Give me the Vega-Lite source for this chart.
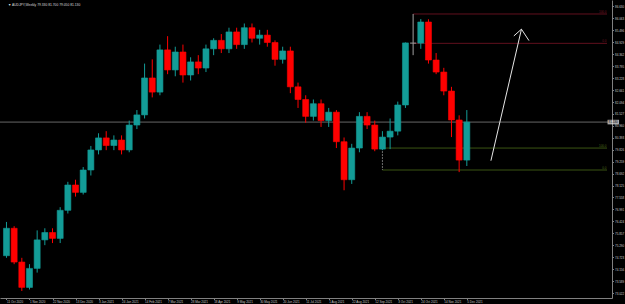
{
  "$schema": "https://vega.github.io/schema/vega-lite/v6.json",
  "width": 612,
  "height": 298,
  "autosize": {"type": "none"},
  "padding": {"left": 0, "top": 0, "right": 13, "bottom": 6},
  "background": "#000000",
  "config": {
    "view": {"stroke": null},
    "font": "Liberation Sans",
    "axis": {"labelOverlap": false, "labelFlush": false, "labelBound": false, "grid": false, "title": null, "labelFontSize": 3, "labelColor": "#c8c8c8", "labelPadding": 1, "tickSize": 1.5, "tickColor": "#808080", "domainColor": "#808080", "domainWidth": 1}
  },
  "datasets": {
    "candles": [
      {"i":0,"o":74.80,"h":76.40,"l":74.70,"c":76.10},
      {"i":1,"o":76.10,"h":76.20,"l":74.40,"c":74.50},
      {"i":2,"o":74.50,"h":74.70,"l":73.13,"c":73.30},
      {"i":3,"o":73.30,"h":74.40,"l":73.20,"c":74.20},
      {"i":4,"o":74.20,"h":76.00,"l":74.00,"c":75.55},
      {"i":5,"o":75.55,"h":76.10,"l":75.30,"c":75.90},
      {"i":6,"o":75.90,"h":76.10,"l":75.40,"c":75.62},
      {"i":7,"o":75.62,"h":77.10,"l":75.40,"c":76.95},
      {"i":8,"o":76.95,"h":78.30,"l":76.80,"c":78.15},
      {"i":9,"o":78.15,"h":78.40,"l":77.60,"c":77.80},
      {"i":10,"o":77.80,"h":79.00,"l":77.70,"c":78.86},
      {"i":11,"o":78.86,"h":80.00,"l":78.60,"c":79.81},
      {"i":12,"o":79.81,"h":80.60,"l":79.60,"c":80.38},
      {"i":13,"o":80.38,"h":80.70,"l":79.80,"c":80.02},
      {"i":14,"o":80.02,"h":80.50,"l":79.80,"c":80.28},
      {"i":15,"o":80.28,"h":80.50,"l":79.60,"c":79.81},
      {"i":16,"o":79.81,"h":81.20,"l":79.70,"c":80.99},
      {"i":17,"o":80.99,"h":81.70,"l":80.80,"c":81.47},
      {"i":18,"o":81.47,"h":83.90,"l":81.30,"c":83.22},
      {"i":19,"o":83.22,"h":84.10,"l":82.30,"c":82.55},
      {"i":20,"o":82.55,"h":84.80,"l":82.40,"c":84.55},
      {"i":21,"o":84.55,"h":85.20,"l":83.40,"c":83.60},
      {"i":22,"o":83.60,"h":84.70,"l":83.30,"c":84.45},
      {"i":23,"o":84.45,"h":84.80,"l":83.00,"c":83.36},
      {"i":24,"o":83.36,"h":84.20,"l":83.10,"c":83.98},
      {"i":25,"o":83.98,"h":84.30,"l":83.40,"c":83.69},
      {"i":26,"o":83.69,"h":84.80,"l":83.50,"c":84.60},
      {"i":27,"o":84.60,"h":85.10,"l":84.30,"c":85.00},
      {"i":28,"o":85.00,"h":85.30,"l":84.40,"c":84.60},
      {"i":29,"o":84.60,"h":85.60,"l":84.40,"c":85.40},
      {"i":30,"o":85.40,"h":85.60,"l":84.60,"c":84.80},
      {"i":31,"o":84.80,"h":85.80,"l":84.60,"c":85.60},
      {"i":32,"o":85.60,"h":85.80,"l":84.90,"c":85.10},
      {"i":33,"o":85.10,"h":85.50,"l":84.80,"c":85.25},
      {"i":34,"o":85.25,"h":85.50,"l":84.70,"c":84.90},
      {"i":35,"o":84.90,"h":85.00,"l":83.80,"c":84.10},
      {"i":36,"o":84.10,"h":84.70,"l":83.90,"c":84.50},
      {"i":37,"o":84.50,"h":84.70,"l":82.50,"c":82.80},
      {"i":38,"o":82.80,"h":83.00,"l":81.80,"c":82.20},
      {"i":39,"o":82.20,"h":82.40,"l":81.10,"c":81.40},
      {"i":40,"o":81.40,"h":82.20,"l":81.20,"c":82.00},
      {"i":41,"o":82.00,"h":82.20,"l":80.90,"c":81.20},
      {"i":42,"o":81.20,"h":81.80,"l":80.90,"c":81.60},
      {"i":43,"o":81.60,"h":81.70,"l":79.90,"c":80.20},
      {"i":44,"o":80.20,"h":80.40,"l":77.90,"c":78.40},
      {"i":45,"o":78.40,"h":80.10,"l":78.20,"c":79.90},
      {"i":46,"o":79.90,"h":81.60,"l":79.70,"c":81.40},
      {"i":47,"o":81.40,"h":81.60,"l":80.80,"c":80.99},
      {"i":48,"o":80.99,"h":81.20,"l":79.75,"c":79.85},
      {"i":49,"o":79.85,"h":80.70,"l":79.80,"c":80.42},
      {"i":50,"o":80.42,"h":81.30,"l":79.85,"c":80.70},
      {"i":51,"o":80.70,"h":82.10,"l":80.50,"c":81.94},
      {"i":52,"o":81.94,"h":84.90,"l":81.80,"c":84.88},
      {"i":53,"o":84.87,"h":86.25,"l":84.30,"c":84.87},
      {"i":54,"o":84.87,"h":86.01,"l":84.60,"c":85.87},
      {"i":55,"o":85.87,"h":86.00,"l":83.90,"c":84.07},
      {"i":56,"o":84.07,"h":84.40,"l":83.40,"c":83.50},
      {"i":57,"o":83.50,"h":83.70,"l":82.40,"c":82.60},
      {"i":58,"o":82.60,"h":82.80,"l":80.42,"c":81.23},
      {"i":59,"o":81.23,"h":81.45,"l":78.76,"c":79.33},
      {"i":60,"o":79.33,"h":81.70,"l":79.05,"c":81.13}
    ],
    "levels": [
      {"fib":"A","start":53,"p":86.25,"label":"100.0"},
      {"fib":"A","start":53,"p":84.86,"label":"0.0"},
      {"fib":"B","start":49,"p":79.90,"label":"100.0"},
      {"fib":"B","start":49,"p":78.86,"label":"0.0"}
    ],
    "anchors": [
      {"fib":"B","i":49,"p1":79.90,"p2":78.86}
    ],
    "arrow": [
      {"seg":"shaft","ord":0,"i":63.14,"p":79.30},
      {"seg":"shaft","ord":1,"i":67.12,"p":85.53},
      {"seg":"head","ord":0,"i":66.13,"p":85.21},
      {"seg":"head","ord":1,"i":67.12,"p":85.53},
      {"seg":"head","ord":2,"i":68.10,"p":84.99}
    ],
    "header": [
      {"txt":"▼ AUDJPY,Weekly  79.330 81.700 79.050 81.130", "bid": 81.13, "bidtxt": "81.130"}
    ]
  },
  "layer": [
    {
      "data": {"name": "levels"},
      "mark": {"type": "rule", "strokeWidth": 0.8},
      "encoding": {
        "x": {"field": "start", "type": "quantitative", "scale": {"domain": [-0.192, 78.27], "nice": false, "zero": false},
          "axis": {"orient": "bottom", "values": [0,3,6,9,12,15,18,21,24,27,30,33,36,39,42,45,48,51,54,57,60], "tickCount": 200,
            "labelExpr": "timeFormat(datetime(2020, 9, 11 + datum.value * 7), '%-d %b %Y')",
            "labelAlign": "left", "labelOverlap": false}},
        "x2": {"datum": 78.27},
        "y": {"field": "p", "type": "quantitative", "scale": {"domain": [72.797, 86.913], "nice": false, "zero": false},
          "axis": {"orient": "right", "values": [86.630,86.063,85.496,84.929,84.362,83.795,83.228,82.661,82.094,81.527,80.960,80.393,79.826,79.259,78.692,78.125,77.558,76.991,76.424,75.857,75.290,74.723,74.156,73.589,73.022], "tickCount": 200,
            "format": ".3f", "labelOverlap": false}},
        "color": {"field": "fib", "type": "nominal", "scale": {"domain": ["A","B"], "range": ["#7a1426", "#4a6a18"]}, "legend": null}
      }
    },
    {
      "data": {"name": "header"},
      "mark": {"type": "rule", "color": "#808080", "strokeWidth": 0.8},
      "encoding": {
        "y": {"field": "bid", "type": "quantitative"}
      }
    },
    {
      "data": {"name": "anchors"},
      "mark": {"type": "rule", "color": "#8a8a8a", "strokeWidth": 0.8, "strokeDash": [2, 1]},
      "encoding": {
        "x": {"field": "i", "type": "quantitative"},
        "y": {"field": "p1", "type": "quantitative"},
        "y2": {"field": "p2"}
      }
    },
    {
      "data": {"name": "levels"},
      "mark": {"type": "text", "align": "right", "baseline": "bottom", "fontSize": 3, "dy": -0.3, "dx": -0.5},
      "encoding": {
        "x": {"datum": 78.27, "type": "quantitative"},
        "y": {"field": "p", "type": "quantitative"},
        "text": {"field": "label"},
        "color": {"field": "fib", "type": "nominal", "legend": null}
      }
    },
    {
      "data": {"name": "candles"},
      "mark": {"type": "rule", "strokeWidth": 1},
      "encoding": {
        "x": {"field": "i", "type": "quantitative"},
        "y": {"field": "l", "type": "quantitative"},
        "y2": {"field": "h"},
        "color": {"condition": [{"test": "datum.c == datum.o", "value": "#a0a0a0"}, {"test": "datum.c > datum.o", "value": "#139c97"}], "value": "#ff0000"}
      }
    },
    {
      "data": {"name": "candles"},
      "mark": {"type": "bar", "size": 6, "strokeWidth": 0.6},
      "encoding": {
        "x": {"field": "i", "type": "quantitative"},
        "y": {"field": "o", "type": "quantitative"},
        "y2": {"field": "c"},
        "color": {"condition": [{"test": "datum.c == datum.o", "value": "#a0a0a0"}, {"test": "datum.c > datum.o", "value": "#139c97"}], "value": "#ff0000"},
        "stroke": {"condition": [{"test": "datum.c == datum.o", "value": "#a0a0a0"}, {"test": "datum.c > datum.o", "value": "#139c97"}], "value": "#ff0000"}
      }
    },
    {
      "data": {"name": "arrow"},
      "mark": {"type": "line", "color": "#e6e6e6", "strokeWidth": 1},
      "encoding": {
        "x": {"field": "i", "type": "quantitative"},
        "y": {"field": "p", "type": "quantitative"},
        "detail": {"field": "seg"},
        "order": {"field": "ord"}
      }
    },
    {
      "data": {"name": "header"},
      "mark": {"type": "tick", "color": "#f2f2f2", "thickness": 4.6, "size": 11.5, "orient": "horizontal", "xOffset": 6.3},
      "encoding": {
        "x": {"datum": 78.27, "type": "quantitative"},
        "y": {"field": "bid", "type": "quantitative"}
      }
    },
    {
      "data": {"name": "header"},
      "mark": {"type": "text", "align": "left", "baseline": "middle", "fontSize": 3, "color": "#000000", "dx": 1.5},
      "encoding": {
        "x": {"datum": 78.27, "type": "quantitative"},
        "y": {"field": "bid", "type": "quantitative"},
        "text": {"field": "bidtxt"}
      }
    },
    {
      "data": {"name": "header"},
      "mark": {"type": "text", "align": "left", "baseline": "top", "fontSize": 3.3, "color": "#dddddd", "dy": 3, "dx": 3},
      "encoding": {
        "x": {"datum": -0.192, "type": "quantitative"},
        "y": {"datum": 86.913, "type": "quantitative"},
        "text": {"field": "txt"}
      }
    }
  ]
}
